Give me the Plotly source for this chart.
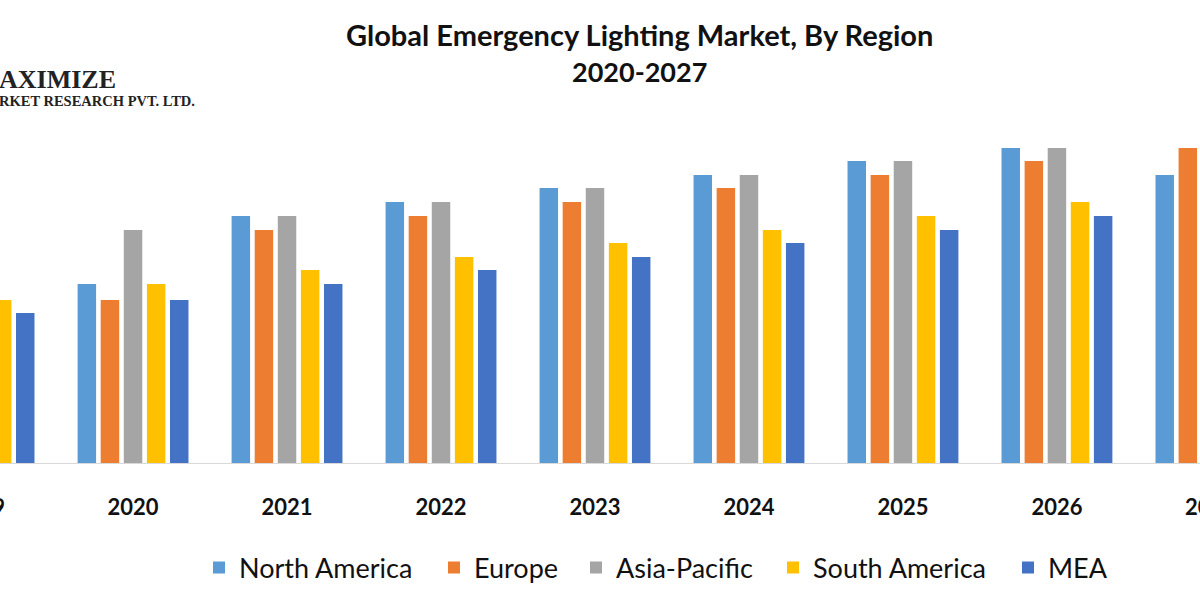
import plotly.graph_objects as go

years = ["2019", "2020", "2021", "2022", "2023", "2024", "2025", "2026", "2027"]
north_america = [1.65, 1.79, 2.47, 2.61, 2.75, 2.88, 3.02, 3.15, 2.88]
europe = [1.50, 1.63, 2.33, 2.47, 2.61, 2.75, 2.88, 3.02, 3.15]
asia_pacific = [1.80, 2.33, 2.47, 2.61, 2.75, 2.88, 3.02, 3.15, 3.15]
south_america = [1.63, 1.79, 1.93, 2.06, 2.20, 2.33, 2.47, 2.61, 2.70]
mea = [1.50, 1.63, 1.79, 1.93, 2.06, 2.20, 2.33, 2.47, 2.55]

series = [
    ("North America", north_america, "#5B9BD5", 190),
    ("Europe", europe, "#ED7D31", 97),
    ("Asia-Pacific", asia_pacific, "#A5A5A5", 152),
    ("South America", south_america, "#FFC000", 190),
    ("MEA", mea, "#4472C4", 75),
]

fig = go.Figure()
for name, vals, col, lw in series:
    fig.add_trace(go.Bar(x=years, y=vals, name=name, legendwidth=lw,
                         marker=dict(color=col, line=dict(width=0))))

font_main = "Lato"
x_range = [0.136, 7.929]
tick_y = -44 / 333  # tick labels sit 44px below the baseline

annotations = [
    dict(text="<b>Global Emergency Lighting Market, By Region</b>", xref="paper", yref="paper",
         x=0.533, y=1.0 + (130 - 34) / 333, xanchor="center", yanchor="middle", showarrow=False,
         font=dict(family=font_main, size=29, color="#111111")),
    dict(text="<b>2020-2027</b>", xref="paper", yref="paper",
         x=0.533, y=1.0 + (130 - 72) / 333, xanchor="center", yanchor="middle", showarrow=False,
         font=dict(family=font_main, size=27, color="#111111")),
    dict(text="<b>AXIMIZE</b>", xref="paper", yref="paper",
         x=0, xshift=-3, y=1.0 + (130 - 79) / 333, xanchor="left", yanchor="middle", showarrow=False,
         font=dict(family="Liberation Serif", size=26, color="#222222")),
    dict(text="<b>RKET RESEARCH PVT. LTD.</b>", xref="paper", yref="paper",
         x=0, xshift=-3, y=1.0 + (130 - 101) / 333, xanchor="left", yanchor="middle", showarrow=False,
         font=dict(family="Liberation Serif", size=14.5, color="#222222")),
]
# category labels that fall just outside the visible axis range (partially cut, as in the reference)
for idx in (0, len(years) - 1):
    frac = (idx - x_range[0]) / (x_range[1] - x_range[0])
    annotations.append(dict(text="<b>%s</b>" % years[idx], xref="paper", yref="paper",
                            x=frac, y=tick_y, xanchor="center", yanchor="middle", showarrow=False,
                            font=dict(family=font_main, size=22, color="#111111")))

fig.update_layout(
    width=1200, height=600,
    margin=dict(l=0, r=0, t=130, b=137),
    paper_bgcolor="white", plot_bgcolor="white",
    barmode="group", bargap=0.25, bargroupgap=0.2,
    showlegend=True,
    legend=dict(orientation="h", x=199 / 1200, xanchor="left", y=-0.315, yanchor="middle",
                font=dict(family=font_main, size=27, color="#111111"),
                itemwidth=30, tracegroupgap=0),
    xaxis=dict(range=x_range, showline=True, linecolor="#d9d9d9", linewidth=1,
               showgrid=False, ticks="", ticklabelstandoff=25,
               tickfont=dict(family=font_main, size=22, color="#111111", weight="bold")),
    yaxis=dict(range=[0, 3.33], visible=False, showgrid=False, zeroline=False),
    annotations=annotations,
)

fig.write_html("out.html", config={"displayModeBar": False},
               post_script="document.body.style.margin='0';document.body.style.padding='0';")
